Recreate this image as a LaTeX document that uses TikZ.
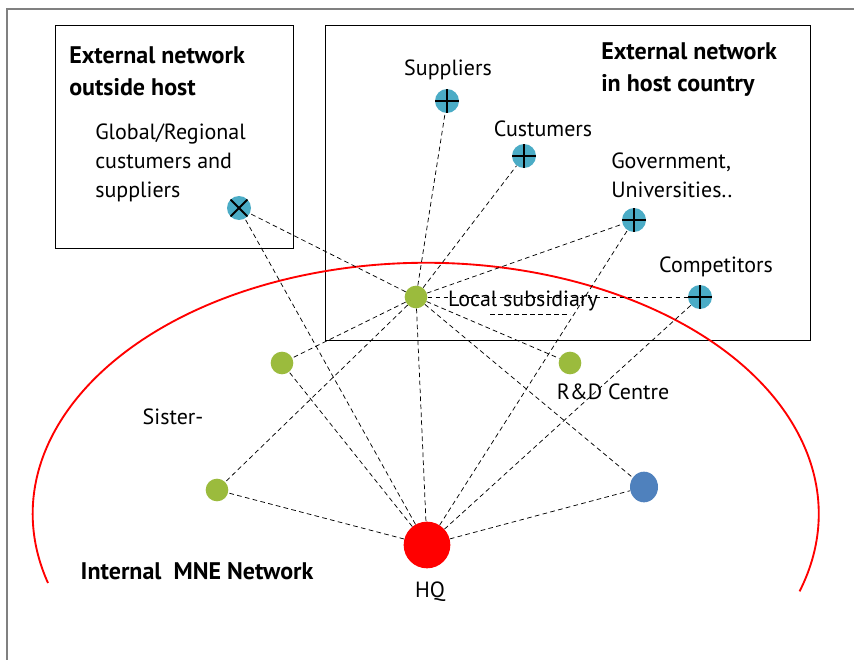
\documentclass[tikz,border=0pt]{standalone}
\usepackage{fontspec}
\setmainfont{PT Sans}
\usetikzlibrary{shapes.geometric}
\definecolor{extcyan}{HTML}{4BACC6}
\definecolor{subgreen}{HTML}{9BBB3D}
\definecolor{rdblue}{HTML}{4F81BD}
\tikzset{
    extnode/.style={circle,fill=extcyan,inner sep=0pt,minimum size=18pt},
    plusmark/.style={extnode,path picture={
        \draw[line width=1.5pt] (path picture bounding box.north) -- (path picture bounding box.south);
        \draw[line width=1.5pt] (path picture bounding box.west) -- (path picture bounding box.east);}},
    crossmark/.style={extnode,path picture={
        \draw[line width=1.5pt] (path picture bounding box.north west) -- (path picture bounding box.south east);
        \draw[line width=1.5pt] (path picture bounding box.south west) -- (path picture bounding box.north east);}},
    subnode/.style={circle,fill=subgreen,inner sep=0pt,minimum size=17pt},
    link/.style={dash pattern=on 3.5pt off 2.5pt,line width=0.55pt},
    lbl/.style={inner sep=0pt,font=\fontsize{16.5}{21.5}\selectfont},
    title/.style={inner sep=0pt,align=left,font=\fontsize{18}{24}\selectfont\bfseries}
}
\begin{document}
\begin{tikzpicture}[x=0.75pt,y=-0.75pt]
    \useasboundingbox (0,0) rectangle (854,660);
    \draw[gray,line width=1.1pt] (7,660) -- (7,9) -- (854,9);
    \draw[line width=0.75pt] (55,26) rectangle (293,248);
    \draw[line width=0.75pt] (325,26) rectangle (810,340);
    \draw[red,line width=1.4pt] (48,583) arc[start angle=164,end angle=378,x radius=393,y radius=251];

    \node[title,anchor=west] at (69,71) {External network\\outside host};
    \node[title,anchor=west] at (601,70) {External network\\in host country};
    \node[lbl,align=left,anchor=west] at (95,163) {Global/Regional\\custumers and\\suppliers};
    \node[lbl] at (448,70) {Suppliers};
    \node[lbl] at (543,129) {Custumers};
    \node[lbl,align=left,anchor=west] at (611,175) {Government,\\Universities..};
    \node[lbl] at (716,267) {Competitors};
    \node[lbl] at (523,301) {Local subsidiary};
    \node[lbl] at (613,392) {R\&D Centre};
    \node[lbl] at (173,417) {Sister-};
    \node[title] at (197,571) {Internal\ \ MNE Network};
    \node[lbl] at (430,592) {HQ};

    \node[crossmark] (global) at (239,208) {};
    \node[plusmark] (suppliers) at (447,101) {};
    \node[plusmark] (custumers) at (524,156) {};
    \node[plusmark] (government) at (634,220) {};
    \node[plusmark] (competitors) at (700,297) {};
    \node[subnode] (local) at (416,297) {};
    \node[subnode] (sisterA) at (282,363) {};
    \node[subnode] (sisterB) at (217,490) {};
    \node[subnode] (rd) at (570,363) {};
    \node[ellipse,fill=rdblue,inner sep=0pt,minimum width=21pt,minimum height=23pt] (unit) at (644,487) {};
    \node[circle,fill=red,inner sep=0pt,minimum size=35pt] (hq) at (427,545) {};
    \coordinate (gapA) at (490,314);
    \coordinate (gapB) at (570,314);

    \foreach \n in {global,suppliers,custumers,government,competitors,sisterA,sisterB,rd,unit,hq}
        \draw[link] (local) -- (\n);
    \foreach \n in {global,government,competitors,sisterA,sisterB,unit}
        \draw[link] (hq) -- (\n);
    \draw[link] (gapA) -- (gapB);
\end{tikzpicture}
\end{document}
